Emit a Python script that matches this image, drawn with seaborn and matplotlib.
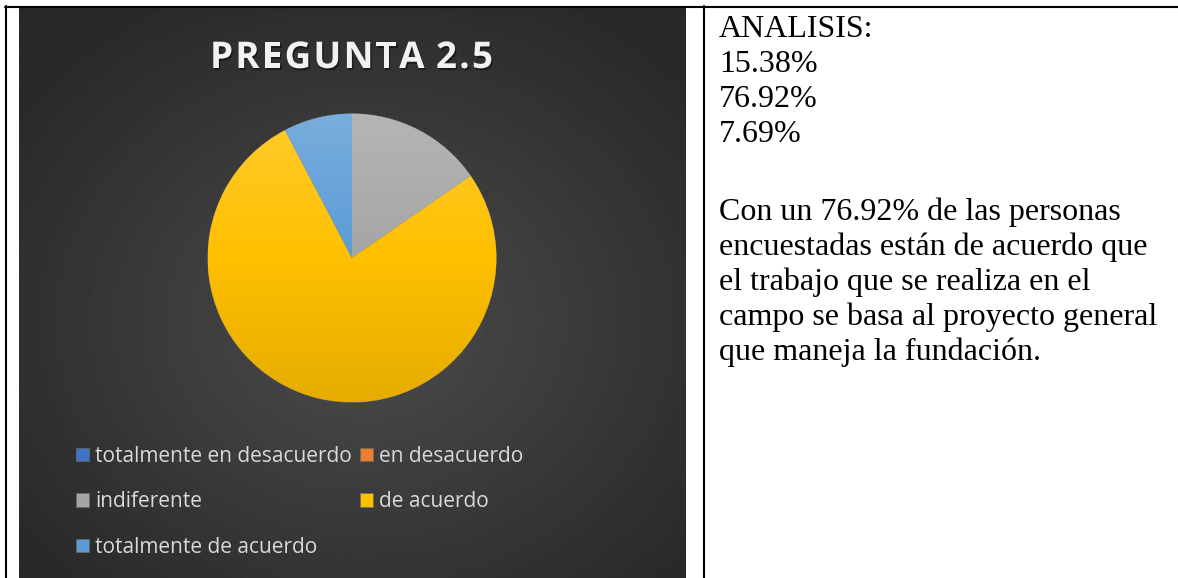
import numpy as np
import matplotlib.pyplot as plt
import matplotlib.patheffects as pe
from matplotlib.colors import LinearSegmentedColormap, to_rgb
from matplotlib.lines import Line2D
import seaborn as sns

# datos del gráfico
categorias = ["totalmente en desacuerdo", "en desacuerdo", "indiferente",
              "de acuerdo", "totalmente de acuerdo"]
porcentajes = [0.0, 0.0, 15.38, 76.92, 7.69]
colores = ["#4472C4", "#ED7D31", "#A5A5A5", "#FFC000", "#5B9BD5"]
titulo = "PREGUNTA 2.5"

# texto de la celda derecha
analisis = ["ANALISIS:", "15.38%", "76.92%", "7.69%"]
conclusion = ["Con un 76.92% de las personas",
              "encuestadas están de acuerdo que",
              "el trabajo que se realiza en el",
              "campo se basa al proyecto general",
              "que maneja la fundación."]

W, H = 1178, 578
sns.set_theme(style="white")
plt.rcParams['font.family'] = ['Open Sans', 'DejaVu Sans']
paleta = sns.color_palette(colores)


def caja(x0, y0, x1, y1):
    # caja en pixeles (desde arriba) -> coordenadas de figura
    return [x0 / W, 1 - y1 / H, (x1 - x0) / W, (y1 - y0) / H]


fig = plt.figure(figsize=(W / 100, H / 100), dpi=100)
fig.patch.set_facecolor('white')
renderer = fig.canvas.get_renderer()

# fondo oscuro con degradado radial
ax_bg = fig.add_axes(caja(19, 8, 686, 578))
yy, xx = np.mgrid[0:1:300j, 0:1:350j]
r = np.sqrt(((xx - 0.52) / 0.65) ** 2 + ((yy - 0.55) / 0.65) ** 2)
fondo = 0.16 + 0.14 * np.clip(1 - r, 0, 1) ** 1.0
ax_bg.imshow(fondo, cmap='gray', vmin=0, vmax=1, aspect='auto',
             extent=[0, 1, 0, 1], interpolation='bilinear')
ax_bg.axis('off')

# pastel
ax = fig.add_axes(caja(207, 113, 497, 403))
wedges, _ = ax.pie(porcentajes, colors=paleta, startangle=90, counterclock=False,
                   radius=1, wedgeprops=dict(linewidth=0.5, edgecolor='#6a6a6a'))
# degradado vertical dentro de cada porción
rampa = np.linspace(0, 1, 256).reshape(-1, 1)
for w, c in zip(wedges, paleta):
    c = np.array(to_rgb(c))
    claro = c + (1 - c) * 0.18
    oscuro = c * 0.9
    cmap = LinearSegmentedColormap.from_list('g', [claro, c, oscuro])
    im = ax.imshow(rampa, extent=[-1, 1, -1, 1], cmap=cmap, aspect='auto',
                   zorder=w.get_zorder() + 0.1)
    im.set_clip_path(w)
ax.set_aspect('equal')
ax.set_xlim(-1.005, 1.005)
ax.set_ylim(-1.005, 1.005)
ax.axis('off')

# título con espaciado entre letras
tam, ancho_obj, x_izq, base = 26.5, 283, 210, 68
props = dict(fontsize=tam, fontweight='bold', color='#f2f2f2', va='baseline',
             path_effects=[pe.withSimplePatchShadow(offset=(1, -1.5), shadow_rgbFace='black', alpha=0.45)])


def ancho(s):
    t = fig.text(0, 0, s, **props)
    w = t.get_window_extent(renderer).width
    t.remove()
    return w


extra = (ancho_obj - ancho(titulo)) / (len(titulo) - 1)
for i, ch in enumerate(titulo):
    x = x_izq + (ancho(titulo[:i]) if i else 0) + extra * i
    fig.text(x / W, 1 - base / H, ch, ha='left', **props)

# leyenda por filas: reordenar para ncol=2
orden = [0, 2, 4, 1, 3]
fig.legend([wedges[i] for i in orden], [categorias[i] for i in orden], ncol=2,
           loc='upper left', bbox_to_anchor=(76 / W, 1 - 446 / H), frameon=False,
           fontsize=15.0, handlelength=0.62, handleheight=0.62, handletextpad=0.3,
           columnspacing=0.4, labelspacing=1.17, borderpad=0, borderaxespad=0,
           labelcolor='#d9d9d9')

# bordes de la tabla
for xs, ys in [([5, W], [7, 7]), ([6, 6], [6, H]), ([704, 704], [6, H])]:
    fig.add_artist(Line2D([x / W for x in xs], [1 - y / H for y in ys],
                          color='black', lw=1.5, transform=fig.transFigure))

# texto de análisis
for i, linea in enumerate(analisis):
    fig.text(719 / W, 1 - (37 + 35 * i) / H, linea, fontfamily='Liberation Serif',
             fontsize=23, va='baseline', color='black')
for i, linea in enumerate(conclusion):
    fig.text(719 / W, 1 - (220 + 35 * i) / H, linea, fontfamily='Liberation Serif',
             fontsize=23, va='baseline', color='black')

fig.savefig('out.png', dpi=100, facecolor='white')
